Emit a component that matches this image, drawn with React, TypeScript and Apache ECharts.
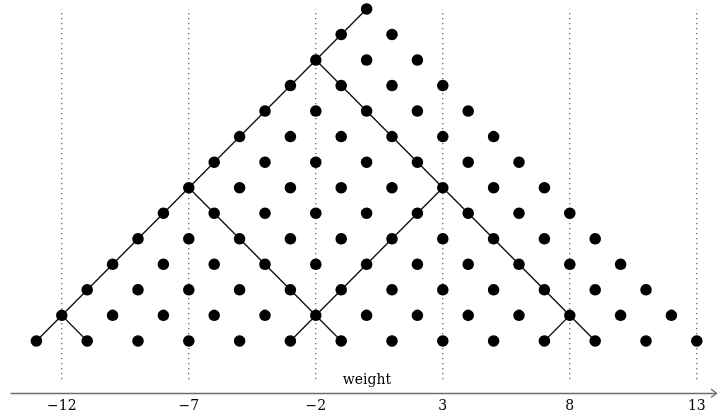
import React, { useEffect, useRef } from "react";
import * as echarts from "echarts";

// Weights present at each level (level 0 = bottom row, level 13 = top)
const weightsByLevel: number[][] = [
  [-13, -11, -9, -7, -5, -3, -1, 1, 3, 5, 7, 9, 11, 13],
  [-12, -10, -8, -6, -4, -2, 0, 2, 4, 6, 8, 10, 12],
  [-11, -9, -7, -5, -3, -1, 1, 3, 5, 7, 9, 11],
  [-10, -8, -6, -4, -2, 0, 2, 4, 6, 8, 10],
  [-9, -7, -5, -3, -1, 1, 3, 5, 7, 9],
  [-8, -6, -4, -2, 0, 2, 4, 6, 8],
  [-7, -5, -3, -1, 1, 3, 5, 7],
  [-6, -4, -2, 0, 2, 4, 6],
  [-5, -3, -1, 1, 3, 5],
  [-4, -2, 0, 2, 4],
  [-3, -1, 1, 3],
  [-2, 0, 2],
  [-1, 1],
  [0],
];

// Reflection path segments: [weight, level] endpoints
const pathSegments: [number, number][][] = [
  [[-13, 0], [0, 13]],
  [[-12, 1], [-11, 0]],
  [[-7, 6], [-1, 0]],
  [[-3, 0], [3, 6]],
  [[-2, 11], [9, 0]],
  [[7, 0], [8, 1]],
];

// Tick labels / dotted guide positions
const tickWeights = [-12, -7, -2, 3, 8, 13];
const guideRange: [number, number] = [-1.5, 13];

const axisName = "weight";

export default function App() {
  const ref = useRef<HTMLDivElement>(null);

  useEffect(() => {
    if (!ref.current) return;
    const chart = echarts.init(ref.current, undefined, { renderer: "svg" });

    const dots: [number, number][] = [];
    weightsByLevel.forEach((row, level) => {
      row.forEach((w) => dots.push([w, level]));
    });

    const guideSeries = tickWeights.map((w) => ({
      type: "line",
      data: [
        [w, guideRange[0]],
        [w, guideRange[1]],
      ],
      symbol: "none",
      silent: true,
      clip: false,
      lineStyle: { color: "#000", width: 1, type: [1, 4] },
      z: 1,
    }));

    const pathSeries = pathSegments.map((seg) => ({
      type: "line",
      data: seg,
      symbol: "none",
      silent: true,
      clip: false,
      lineStyle: { color: "#111", width: 1.4 },
      z: 2,
    }));

    chart.setOption({
      animation: false,
      grid: { left: 11, right: 0, top: 0, bottom: 23, containLabel: false },
      xAxis: {
        type: "value",
        min: -14,
        max: 13.795,
        splitLine: { show: false },
        axisTick: { show: false },
        axisLine: {
          show: true,
          onZero: false,
          lineStyle: { color: "#6e6e6e", width: 1.4 },
        },
        axisLabel: {
          customValues: tickWeights,
          margin: 5,
          color: "#000",
          fontFamily: "DejaVu Serif",
          fontSize: 14,
          formatter: (v: number) => String(v).replace("-", "\u2212"),
        },
      },
      yAxis: {
        type: "value",
        min: -2.04,
        max: 13.35,
        show: false,
      },
      graphic: [
        {
          type: "text",
          x: 367,
          y: 379,
          style: {
            text: axisName,
            fill: "#000",
            font: "14px 'DejaVu Serif'",
            align: "center",
            verticalAlign: "middle",
          },
        },
        {
          type: "polyline",
          shape: {
            points: [
              [711, 389],
              [716.5, 393.3],
              [711, 397.6],
            ],
          },
          style: { stroke: "#6e6e6e", lineWidth: 1.3, fill: "none" },
        },
      ],
      series: [
        ...guideSeries,
        ...pathSeries,
        {
          type: "scatter",
          data: dots,
          symbol: "circle",
          symbolSize: 11.5,
          clip: false,
          itemStyle: { color: "#000", opacity: 1 },
          z: 3,
        },
      ],
    });

    return () => chart.dispose();
  }, []);

  return (
    <div
      ref={ref}
      style={{ position: "fixed", left: 0, top: 0, width: 717, height: 416 }}
    />
  );
}
